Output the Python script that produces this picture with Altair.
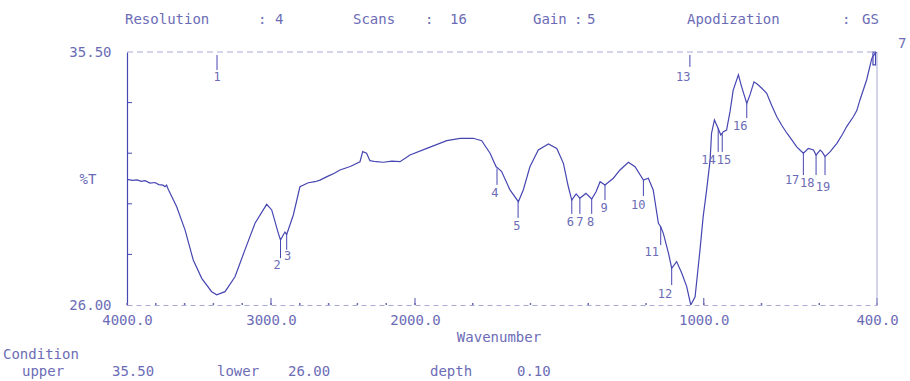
import altair as alt
import pandas as pd

# ---------------- data ----------------
wavenumber = [4000, 3960, 3930, 3900, 3875, 3840, 3806, 3780, 3750, 3736, 3725, 3713,
              3655, 3597, 3540, 3481, 3412, 3377, 3319, 3250, 3181, 3111, 3030, 2995,
              2949, 2934, 2915, 2903, 2891, 2845, 2799, 2741, 2694, 2660, 2600, 2560,
              2521, 2450, 2382, 2363, 2336, 2313, 2270, 2220, 2160, 2104, 2035, 1959,
              1890, 1844, 1798, 1769, 1740, 1719, 1712, 1700, 1671, 1642, 1625, 1602,
              1573, 1538, 1509, 1486, 1469, 1457, 1442, 1429, 1408, 1388, 1373, 1359,
              1342, 1313, 1290, 1261, 1238, 1209, 1192, 1175, 1157, 1149, 1140, 1122,
              1111, 1094, 1076, 1059, 1045, 1030, 1013, 1002, 990, 978, 973, 963,
              950, 941, 932, 921, 909, 898, 880, 869, 851, 840, 826, 815, 799, 782,
              765, 747, 730, 712, 695, 678, 665, 655, 645, 638, 620, 611, 597, 590,
              580, 562, 539, 520, 505, 482, 470, 459, 436, 418, 407, 400]
transmittance = [30.72, 30.68, 30.70, 30.64, 30.67, 30.58, 30.60, 30.52, 30.50, 30.44, 30.50, 30.34,
                 29.69, 28.82, 27.69, 27.00, 26.50, 26.38, 26.50, 27.06, 28.07, 29.07, 29.78, 29.57,
                 28.69, 28.44, 28.63, 28.74, 28.65, 29.38, 30.44, 30.59, 30.63, 30.69, 30.85, 30.95,
                 31.07, 31.20, 31.38, 31.76, 31.70, 31.42, 31.38, 31.36, 31.40, 31.38, 31.63, 31.88,
                 32.17, 32.26, 32.26, 32.17, 31.70, 31.19, 31.13, 31.01, 30.32, 29.88, 30.32, 31.19,
                 31.82, 32.05, 31.88, 31.32, 30.44, 29.94, 30.17, 30.01, 30.19, 29.98, 30.25, 30.63,
                 30.51, 30.76, 31.07, 31.36, 31.19, 30.69, 30.76, 30.32, 29.07, 28.94, 28.69, 27.94,
                 27.38, 27.63, 27.19, 26.69, 26.00, 26.31, 28.07, 29.32, 30.32, 31.44, 32.45, 32.95,
                 32.63, 32.38, 32.51, 32.57, 33.26, 34.07, 34.64, 34.20, 33.57, 33.89, 34.38, 34.30, 34.14, 33.95,
                 33.50, 33.07, 32.75, 32.45, 32.20, 31.94, 31.80, 31.70, 31.80, 31.88, 31.82, 31.63, 31.82, 31.75,
                 31.57, 31.76, 32.07, 32.40, 32.70, 33.07, 33.30, 33.70, 34.45, 35.26, 35.45, 35.50]

peak_labels = ["1", "2", "3", "4", "5", "6", "7", "8", "9", "10", "11", "12", "13",
               "14", "15", "16", "17", "18", "19"]
peak_wn = [3375, 2934, 2891, 1716, 1643, 1457, 1429, 1388, 1342, 1209, 1149, 1111, 1048,
           950, 936, 851, 655, 611, 580]
peak_t = [35.39, 28.44, 28.65, 31.13, 29.88, 29.94, 30.01, 29.98, 30.51, 30.69, 28.94, 27.38, 35.39,
          32.63, 32.45, 33.57, 31.70, 31.63, 31.57]
peak_t_end = [34.82, 27.76, 28.07, 30.51, 29.27, 29.42, 29.42, 29.42, 29.94, 30.09, 28.25, 26.75, 34.94,
              31.75, 31.75, 33.02, 30.88, 30.88, 30.88]
label_wn = [3375, 2958, 2885, 1723, 1647, 1462, 1429, 1392, 1345, 1227, 1180, 1134, 1071,
            984, 930, 874, 694, 642, 587]
label_t = [34.56, 27.50, 27.84, 30.21, 28.97, 29.12, 29.12, 29.12, 29.65, 29.75, 28.00, 26.41, 34.56,
           31.44, 31.44, 32.72, 30.69, 30.58, 30.44]

box_wn = [414, 405]
box_t = [35.5, 35.02]

x_tick_labels = [4000, 3000, 2000, 1000, 400]
x_minor_ticks = list(range(4000, 399, -200))
x_major_ticks = [3000, 2000, 1000, 400]
y_label_values = [26.0, 35.5]
y_minor_ticks = [27.9, 29.8, 31.7, 33.6]

# ---------------- styling ----------------
W, H = 750, 253
LEFT, TOP = 127, 52
BLUE = "#4646b2"
TEXT = "#6c6cb6"
LIGHT = "#a9a9d6"
FONT = "DejaVu Sans Mono"
FS = 14

xscale = alt.Scale(domain=[4000, 2000, 400], range=[0, 288, W], nice=False, zero=False)
yscale = alt.Scale(domain=[26, 35.5], nice=False, zero=False)
xaxis = alt.Axis(values=x_tick_labels, format=".1f", ticks=False, grid=False, title=None,
                 labelFont=FONT, labelFontSize=FS, labelColor=TEXT, labelPadding=8,
                 labelFlush=False, labelOverlap=False,
                 domainColor=LIGHT, domainDash=[5, 4], domainWidth=1)
yaxis = alt.Axis(values=y_label_values, format=".2f", ticks=False, grid=False, title=None,
                 labelFont=FONT, labelFontSize=FS, labelColor=TEXT, labelPadding=16,
                 labelFlush=False, domainColor=BLUE, domainWidth=1.2)


def X(field):
    return alt.X(field, type="quantitative", scale=xscale, axis=xaxis, title=None)


def Y(field):
    return alt.Y(field, type="quantitative", scale=yscale, axis=yaxis, title=None)


curve_df = pd.DataFrame({"wn": wavenumber, "t": transmittance})
peaks_df = pd.DataFrame({"label": peak_labels, "wn": peak_wn, "t": peak_t, "t2": peak_t_end,
                         "lwn": label_wn, "lt": label_t})
one = alt.Data(values=[{}])

curve = alt.Chart(curve_df).mark_line(color=BLUE, strokeWidth=1.2, clip=True).encode(
    x=X("wn"), y=Y("t"))

markers = alt.Chart(peaks_df).mark_rule(color=BLUE, strokeWidth=1).encode(
    x=X("wn"), y=Y("t"), y2="t2:Q")

labels = alt.Chart(peaks_df).mark_text(font=FONT, fontSize=12, color=TEXT).encode(
    x=X("lwn"), y=Y("lt"), text="label:N")

box = alt.Chart(pd.DataFrame({"wn": [box_wn[0]], "wn2": [box_wn[1]], "t": [box_t[0]], "t2": [box_t[1]]})
                ).mark_rect(filled=False, stroke=BLUE, strokeWidth=1.2).encode(
    x=X("wn"), x2="wn2:Q", y=Y("t"), y2="t2:Q")

minor_x = alt.Chart(pd.DataFrame({"wn": x_minor_ticks})).mark_rule(color=TEXT, strokeWidth=1.5).encode(
    x=X("wn"), y=alt.value(H), y2=alt.value(H - 2))
major_x = alt.Chart(pd.DataFrame({"wn": x_major_ticks})).mark_rule(color=TEXT, strokeWidth=1.2).encode(
    x=X("wn"), y=alt.value(H), y2=alt.value(H - 7))
minor_y = alt.Chart(pd.DataFrame({"t": y_minor_ticks})).mark_rule(color=BLUE, strokeWidth=1).encode(
    y=Y("t"), x=alt.value(0), x2=alt.value(5))

top_border = alt.Chart(one).mark_rule(color=LIGHT, strokeWidth=1, strokeDash=[6, 4]).encode(
    x=alt.value(0), x2=alt.value(W), y=alt.value(0))
right_border = alt.Chart(one).mark_rule(color=LIGHT, strokeWidth=1).encode(
    x=alt.value(W), y=alt.value(0), y2=alt.value(H))


def txt(s, px, py, align="left", size=FS):
    # px, py are page pixel positions; converted to plot-relative
    return alt.Chart(one).mark_text(font=FONT, fontSize=size, color=TEXT, align=align,
                                    baseline="middle").encode(
        x=alt.value(px - LEFT), y=alt.value(py - TOP), text=alt.value(s))


annotations = [
    txt("Resolution", 125, 20), txt(":", 258, 20), txt("4", 275, 20),
    txt("Scans", 353, 20), txt(":", 425, 20), txt("16", 450, 20),
    txt("Gain", 533, 20), txt(":", 574, 20), txt("5", 587, 20),
    txt("Apodization", 687, 20), txt(":", 842, 20), txt("GS", 862, 20),
    txt("7", 898, 44),
    txt("%T", 88, 180, align="center"),
    txt("Wavenumber", 499, 338, align="center"),
    txt("Condition", 3, 355),
    txt("upper", 22, 372), txt("35.50", 112, 372),
    txt("lower", 217, 372), txt("26.00", 288, 372),
    txt("depth", 430, 372), txt("0.10", 517, 372),
]

chart = alt.layer(curve, markers, labels, box, minor_x, major_x, minor_y, top_border, right_border,
                  *annotations).properties(
    width=W, height=H,
    autosize=alt.AutoSizeParams(type="none"),
    padding={"left": LEFT, "top": TOP, "right": 910 - LEFT - W, "bottom": 381 - TOP - H},
    background="white",
).configure_view(stroke=None)

chart.save("out.html", embed_options={"renderer": "svg", "actions": False})
